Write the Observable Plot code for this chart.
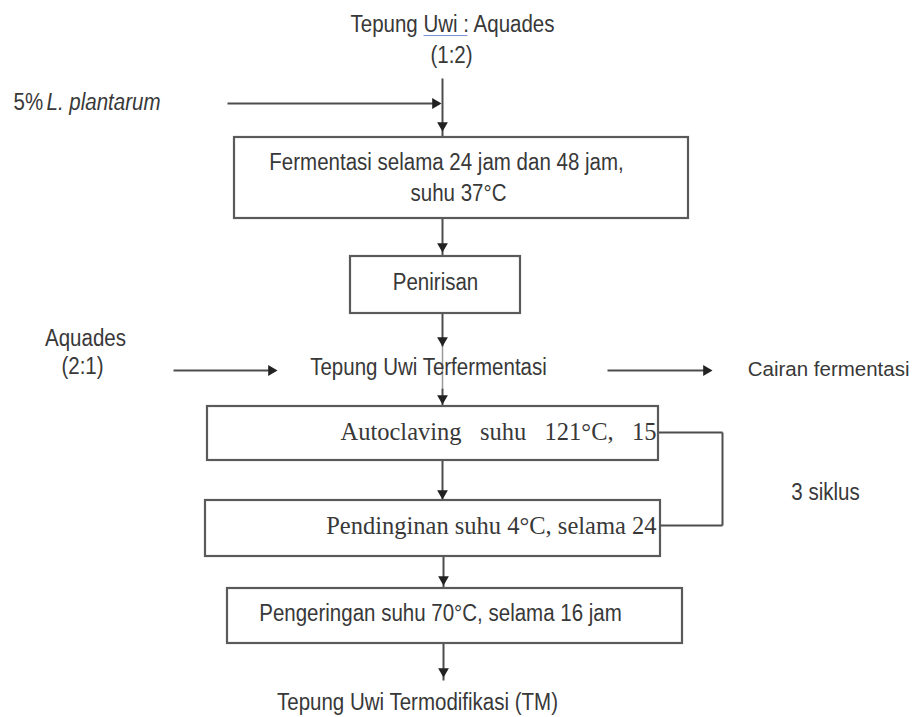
<!DOCTYPE html>
<html>
<head>
<meta charset="utf-8">
<script src="https://cdn.jsdelivr.net/npm/d3@7"></script>
<script src="https://cdn.jsdelivr.net/npm/@observablehq/plot@0.6"></script>
<style>
  body { margin: 0; background: #fff; }
  #chart svg { display: block; }
</style>
</head>
<body>
<div id="chart"></div>
<script>
// ---- Text content of the flow diagram ----
const inputLabels = ["Tepung Uwi : Aquades", "(1:2)"];
const starterLabels = ["5%", "L. plantarum"];
const stepLabels = [
  "Fermentasi selama 24 jam dan 48 jam,",
  "suhu 37°C",
  "Penirisan",
  "Pengeringan suhu 70°C, selama 16 jam"
];
const serifStepLabels = [
  "Autoclaving\u00a0\u00a0\u00a0suhu\u00a0\u00a0\u00a0121°C,\u00a0\u00a0\u00a015",
  "Pendinginan suhu 4°C, selama 24"
];
const sideLabels = ["Aquades", "(2:1)", "Tepung Uwi Terfermentasi", "3 siklus"];
const outflowLabels = ["Cairan fermentasi"];
const outputLabels = ["Tepung Uwi Termodifikasi (TM)"];

// ---- Layout (diagram coordinates, px) ----
const boxX1 = [234, 350, 207, 205, 227];
const boxX2 = [688, 520, 658, 660, 682];
const boxY1 = [137, 256, 406, 500, 588];
const boxY2 = [218, 313, 460, 556, 643];

const inputPos = [[452, 24], [451, 55]];
const starterPos = [[13, 102], [46, 102]];
const stepPos = [[446, 162], [458, 193], [435, 282], [440, 613]];
const serifPos = [[656, 432], [656, 526]];
const sidePos = [[85, 338], [82, 366], [428, 367], [825, 492]];
const outflowPos = [[909, 369]];
const outputPos = [[417, 702]];

const segX1 = [442, 227, 442, 442, 442, 173, 607, 442, 658, 722, 722, 443, 443];
const segY1 = [ 78, 103, 218, 313, 388, 370, 370, 460, 432, 432, 525, 556, 643];
const segX2 = [442, 436, 442, 442, 442, 272, 707, 442, 722, 722, 660, 443, 443];
const segY2 = [137, 103, 256, 346, 406, 370, 370, 500, 432, 525, 525, 588, 680];

const headX = [442, 441, 442, 442, 442, 277, 712, 442, 443, 443];
const headY = [131, 103, 252, 346, 404, 370, 370, 499, 585, 677];
const headDir = ["down", "right", "down", "down", "down", "right", "right", "down", "down", "down"];

// ---- Build tables ----
const boxes = boxX1.map((x1, i) => ({x1, x2: boxX2[i], y1: boxY1[i], y2: boxY2[i]}));
const segs = segX1.map((x1, i) => ({x1, y1: segY1[i], x2: segX2[i], y2: segY2[i]}));
const OFF = 6.2;
const heads = headX.map((x, i) => ({
  x: headDir[i] === "right" ? x - OFF : x,
  y: headDir[i] === "down" ? headY[i] - OFF : headY[i],
  rot: headDir[i] === "down" ? 180 : 90
}));
const mk = (labels, pos) => labels.map((t, i) => ({t, x: pos[i][0], y: pos[i][1]}));

const sans = "'Liberation Sans', Arial, sans-serif";
const serif = "'Liberation Serif', 'Times New Roman', serif";
const ink = "#383838";
const lineCol = "#4d4d4d";
const FS = 23.3;       // sans font size (rendered condensed)
const SQUEEZE = 0.88;  // horizontal condensing of the sans labels

const sansOpts = {x: "x", y: "y", text: "t", fontFamily: sans, fontSize: FS, fill: ink, className: "cond"};

const chart = Plot.plot({
  width: 914,
  height: 717,
  margin: 0,
  x: {domain: [0, 914], range: [0, 914], axis: null},
  y: {domain: [0, 717], range: [0, 717], axis: null},
  style: {background: "#fff"},
  marks: [
    // faint line passing behind "Tepung Uwi Terfermentasi"
    Plot.link([{x1: 442, y1: 346, x2: 442, y2: 388}], {x1: "x1", y1: "y1", x2: "x2", y2: "y2", stroke: "#999", strokeWidth: 1.5}),
    Plot.link(segs, {x1: "x1", y1: "y1", x2: "x2", y2: "y2", stroke: lineCol, strokeWidth: 2}),
    Plot.rect(boxes, {x1: "x1", x2: "x2", y1: "y1", y2: "y2", fill: "none", stroke: "#5a5a5a", strokeWidth: 2.2}),
    Plot.dot(heads, {x: "x", y: "y", symbol: "triangle", r: 4, fill: "#222", stroke: "none", rotate: "rot"}),
    // spell-check underline under "Uwi :"
    Plot.link([{x1: 423, y1: 35, x2: 467, y2: 35}], {x1: "x1", y1: "y1", x2: "x2", y2: "y2", stroke: "#7f93d8", strokeWidth: 1.2}),
    Plot.text(mk(inputLabels, inputPos), sansOpts),
    Plot.text(mk(starterLabels, starterPos).slice(0, 1), {...sansOpts, textAnchor: "start"}),
    Plot.text(mk(starterLabels, starterPos).slice(1), {...sansOpts, textAnchor: "start", fontStyle: "italic"}),
    Plot.text(mk(stepLabels, stepPos), sansOpts),
    Plot.text(mk(serifStepLabels, serifPos), {x: "x", y: "y", text: "t", fontFamily: serif, fontSize: 24.5, fill: ink, textAnchor: "end"}),
    Plot.text(mk(sideLabels, sidePos), sansOpts),
    // right-edge label: natural (uncondensed) width so it stays inside the frame
    Plot.text(mk(outflowLabels, outflowPos), {x: "x", y: "y", text: "t", fontFamily: sans, fontSize: 20.5, fill: ink, textAnchor: "end"}),
    Plot.text(mk(outputLabels, outputPos), sansOpts)
  ]
});
document.getElementById("chart").appendChild(chart);

// condense the sans labels horizontally, like the narrow lettering of the original
d3.select(chart).selectAll(".cond text").each(function () {
  const L = this.getComputedTextLength();
  if (L > 0) {
    this.setAttribute("textLength", (L * SQUEEZE).toFixed(1));
    this.setAttribute("lengthAdjust", "spacingAndGlyphs");
  }
});
</script>
</body>
</html>
